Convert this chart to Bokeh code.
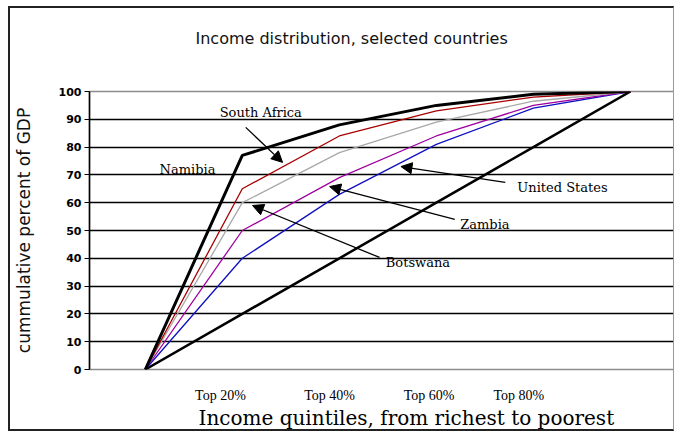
from bokeh.plotting import figure
from bokeh.models import FixedTicker, Arrow, NormalHead, Title, Range1d
from bokeh.embed import file_html
from bokeh.resources import INLINE
from bokeh.core.properties import value

# ---- data ----
quintiles = [0, 20, 40, 60, 80, 100]
namibia = [0, 77, 88, 95, 99, 100]
south_africa = [0, 65, 84, 93, 98, 100]
botswana = [0, 60, 78, 89, 96.5, 100]
zambia = [0, 50, 69, 84, 95, 100]
united_states = [0, 40, 63, 81, 94, 100]
equality = [0, 20, 40, 60, 80, 100]

x_tick_positions = [15.5, 38, 58.5, 77]
x_tick_labels = ["Top 20%", "Top 40%", "Top 60%", "Top 80%"]
y_ticks = list(range(0, 101, 10))
grid_ticks = list(range(10, 100, 10))

chart_title = "Income distribution, selected countries"
x_title = "Income quintiles, from richest to poorest"
y_title = "cummulative percent of GDP"

label_names = ["South Africa", "Namibia", "United States", "Zambia", "Botswana"]
label_x = [23.8, 8.7, 86.0, 70.0, 56.2]
label_y = [92.4, 71.9, 65.5, 52.2, 38.5]

arrow_x_start = [20.7, 74.2, 63.8, 48.3]
arrow_y_start = [87.1, 67.3, 54.0, 40.3]
arrow_x_end = [28.3, 52.7, 38.0, 22.1]
arrow_y_end = [74.5, 73.0, 65.8, 59.0]

# ---- figure ----
p = figure(width=666, height=425,
           x_range=Range1d(-11.5, 109.5), y_range=Range1d(0, 100),
           output_backend="svg", toolbar_location=None,
           min_border_left=79, min_border_right=0,
           min_border_top=83, min_border_bottom=64)
p.styles = {"border": "2px solid #222", "border-right": "1px solid #999",
            "margin-left": "8px", "margin-top": "6px"}

# spacer panel next to the frame, then the real title above it
p.add_layout(Title(text=" ", text_font_size="10px", standoff=31), "above")
p.add_layout(Title(text=chart_title, align="left", offset=106,
                   text_font="DejaVu Sans", text_font_size="16px",
                   text_font_style="normal", text_color="#111",
                   vertical_align="bottom", standoff=0), "above")

# y axis
p.yaxis.ticker = FixedTicker(ticks=y_ticks)
p.yaxis.axis_line_color = "black"
p.yaxis.axis_line_width = 1.5
p.yaxis.major_tick_out = 5
p.yaxis.major_tick_in = 0
p.yaxis.major_tick_line_color = "black"
p.yaxis.minor_tick_line_color = None
p.yaxis.major_label_text_font = "DejaVu Sans"
p.yaxis.major_label_text_font_size = "11px"
p.yaxis.major_label_text_font_style = "bold"
p.yaxis.major_label_text_color = "black"
p.yaxis.major_label_standoff = 3
p.yaxis.axis_label = y_title
p.yaxis.axis_label_text_font = "DejaVu Sans"
p.yaxis.axis_label_text_font_size = "17px"
p.yaxis.axis_label_text_font_style = "normal"
p.yaxis.axis_label_text_color = "#111"
p.yaxis.axis_label_standoff = 22

# x axis
p.xaxis.ticker = FixedTicker(ticks=x_tick_positions)
p.xaxis.major_label_overrides = {k: v for k, v in zip(x_tick_positions, x_tick_labels)}
p.xaxis.axis_line_color = None
p.xaxis.major_tick_line_color = None
p.xaxis.major_tick_out = 0
p.xaxis.major_tick_in = 0
p.xaxis.minor_tick_line_color = None
p.xaxis.minor_tick_out = 0
p.xaxis.major_label_text_font = "Liberation Serif"
p.xaxis.major_label_text_font_size = "14px"
p.xaxis.major_label_text_color = "black"
p.xaxis.major_label_standoff = 18

p.add_layout(Title(text=x_title, align="left", offset=109,
                   text_font="DejaVu Serif", text_font_size="20px",
                   text_font_style="normal", text_color="black",
                   vertical_align="top", standoff=1), "below")

# grid / frame
p.xgrid.visible = False
p.ygrid.ticker = FixedTicker(ticks=grid_ticks)
p.ygrid.grid_line_color = "black"
p.ygrid.grid_line_width = 1.5
p.outline_line_color = "#8c8c8c"
p.outline_line_width = 1.5
p.background_fill_color = "white"
p.border_fill_color = "white"

# ---- series ----
p.line(quintiles, equality, line_color="black", line_width=2.5)
p.line(quintiles, united_states, line_color="#1010c0", line_width=1.3)
p.line(quintiles, zambia, line_color="#a000a0", line_width=1.3)
p.line(quintiles, botswana, line_color="#a8a8a8", line_width=1.3)
p.line(quintiles, south_africa, line_color="#a80000", line_width=1.3)
p.line(quintiles, namibia, line_color="black", line_width=3)

# ---- annotations ----
p.text(x=label_x, y=label_y, text=label_names,
       text_font=value("DejaVu Serif"), text_font_size="13px",
       text_align="center", text_baseline="middle", text_color="black")

for xs, ys, xe, ye in zip(arrow_x_start, arrow_y_start, arrow_x_end, arrow_y_end):
    p.add_layout(Arrow(end=NormalHead(size=11, fill_color="black", line_color="black"),
                       x_start=xs, y_start=ys, x_end=xe, y_end=ye,
                       line_color="black", line_width=1.3))

open("out.html", "w").write(file_html(p, INLINE))
